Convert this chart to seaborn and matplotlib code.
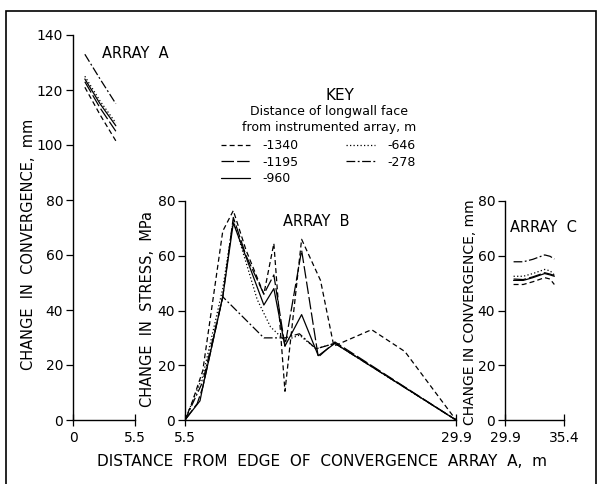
import pandas as pd
import seaborn as sns
import matplotlib.pyplot as plt
from matplotlib.patches import Rectangle

# | Data |-------------------------------------------------------------------------------------------------------------|
faces = ["-1340", "-1195", "-960", "-646", "-278"]

# array A - change in convergence, mm
a_x = {f: [1.05, 2.4, 3.8] for f in faces}
a_y = {
    "-1340": [121, 111, 101.5],
    "-1195": [123, 113.5, 105],
    "-960": [124, 115, 107],
    "-646": [125, 116, 108],
    "-278": [133, 124, 115],
}

# array B - change in stress, MPa
b_x = {
    "-1340": [5.5, 6.1, 7.1, 8.9, 9.85, 11.0, 12.6, 13.5, 14.5, 16.0, 17.7, 18.9, 22.3, 25.3, 29.9],
    "-1195": [5.5, 6.6, 7.1, 8.9, 9.85, 11.0, 12.6, 13.5, 14.5, 16.0, 17.5, 19.0, 29.9],
    "-960": [5.5, 6.85, 7.1, 8.9, 9.85, 12.6, 13.5, 14.5, 16.0, 17.5, 19.0, 29.9],
    "-646": [5.5, 7.1, 8.9, 9.85, 12.0, 13.2, 14.5, 15.8, 17.3, 19.0, 29.9],
    "-278": [5.5, 7.1, 8.9, 12.6, 13.5, 14.5, 15.8, 17.3, 19.0, 29.9],
}
b_y = {
    "-1340": [0, 6, 18, 69, 76.5, 62, 46, 64.5, 10.5, 66, 51, 27, 33, 25, 0],
    "-1195": [0, 6, 12, 45, 74, 60, 46, 53, 27, 62, 23, 28.5, 0],
    "-960": [0, 7, 12, 45, 72, 42, 48, 27, 38.5, 23.5, 28, 0],
    "-646": [0, 16, 48, 73, 44, 34, 29, 31, 26, 28, 0],
    "-278": [0, 14, 45, 30, 30, 30, 31.5, 26, 28, 0],
}

# array C - change in convergence, mm
c_x = {f: [30.7, 31.6, 32.5, 33.6, 34.1, 34.5] for f in faces}
c_y = {
    "-1340": [49.5, 49.5, 50.5, 52, 51.5, 49.5],
    "-1195": [51.5, 51.3, 52.3, 53.8, 53.3, 52.8],
    "-960": [51, 51, 52, 53.5, 53, 52.5],
    "-646": [52.5, 52.5, 53.5, 55, 54.5, 53],
    "-278": [57.8, 57.8, 58.7, 60.3, 59.8, 58.8],
}

dash_map = {
    "-1340": (4, 2.5),
    "-1195": (10, 2.5),
    "-960": "",
    "-646": (1, 1.8),
    "-278": (7, 2, 1.5, 2),
}
# |--------------------------------------------------------------------------------------------------------------------|


def to_frame(xs, ys):
    rows = []
    for face in faces:
        for x, y in zip(xs[face], ys[face]):
            rows.append((face, x, y))
    return pd.DataFrame(rows, columns=["face", "dist", "value"])


def draw(ax, xs, ys, legend=False):
    sns.lineplot(data=to_frame(xs, ys), x="dist", y="value", style="face", style_order=faces,
                 dashes=dash_map, color="black", linewidth=0.9, estimator=None, sort=False,
                 ax=ax, legend=legend)


def style_axis(ax, xlim, ylim):
    ax.set_xlim(*xlim)
    ax.set_ylim(*ylim)
    ax.set_xticks(list(xlim))
    ax.set_xticklabels([f"{v:g}" for v in xlim])
    ax.set_yticks(range(0, ylim[1] + 1, 20))
    ax.set_xlabel("")
    ax.set_ylabel("")
    sns.despine(ax=ax)
    for side in ("left", "bottom"):
        ax.spines[side].set_linewidth(1.0)
        ax.spines[side].set_color("black")
    ax.tick_params(axis="y", direction="out", length=5, width=0.9, pad=2, labelsize=10, colors="black")
    ax.tick_params(axis="x", direction="inout", length=8, width=0.9, pad=4, labelsize=10, colors="black")


sns.set_style("ticks")
plt.rcParams["font.family"] = ["DejaVu Sans"]
plt.rcParams["text.color"] = "black"

W, H = 601, 484
fig = plt.figure(figsize=(W / 100, H / 100), dpi=100)


def box(left, right, top, bottom):
    return [left / W, 1 - bottom / H, (right - left) / W, (bottom - top) / H]


ax_a = fig.add_axes(box(73, 135, 35, 420))
ax_b = fig.add_axes(box(185, 456, 201, 420))
ax_c = fig.add_axes(box(505, 564, 201, 420))

draw(ax_a, a_x, a_y)
draw(ax_b, b_x, b_y, legend=True)
draw(ax_c, c_x, c_y)

style_axis(ax_a, (0, 5.5), (0, 140))
style_axis(ax_b, (5.5, 29.9), (0, 80))
style_axis(ax_c, (29.9, 35.4), (0, 80))

handles, labels = ax_b.get_legend_handles_labels()
ax_b.get_legend().remove()
fig.legend(handles, labels, loc="upper left", bbox_to_anchor=(221 / W, 1 - 139 / H), ncol=2,
           frameon=False, fontsize=9, handlelength=2.3, handletextpad=1.0, columnspacing=3.8,
           labelspacing=0.3, borderpad=0, borderaxespad=0, labelcolor="black")


def ftext(x, y, s, **kw):
    fig.text(x / W, 1 - y / H, s, va="center", color="black", **kw)


ftext(102, 54, "ARRAY  A", fontsize=10.5)
ftext(283, 222, "ARRAY  B", fontsize=10.5)
ftext(510, 228, "ARRAY  C", fontsize=10.5)
ftext(340, 95, "KEY", fontsize=11, ha="center")
ftext(329, 111, "Distance of longwall face", fontsize=9, ha="center")
ftext(329, 127, "from instrumented array, m", fontsize=9, ha="center")

ftext(29, 244, "CHANGE  IN  CONVERGENCE,  mm", rotation=90, ha="center", fontsize=10.5)
ftext(147, 309, "CHANGE  IN  STRESS,  MPa", rotation=90, ha="center", fontsize=10.5)
ftext(470, 312, "CHANGE IN CONVERGENCE, mm", rotation=90, ha="center", fontsize=10)
ftext(322, 462, "DISTANCE  FROM  EDGE  OF  CONVERGENCE  ARRAY  A,  m", ha="center", fontsize=11)

# frame round the whole figure
fig.add_artist(Rectangle((5.5 / W, -0.05), (596 - 5.5) / W, 1.05 - 11 / H, transform=fig.transFigure,
                         fill=False, edgecolor="black", linewidth=1.2))

fig.savefig("out.png", dpi=100)
